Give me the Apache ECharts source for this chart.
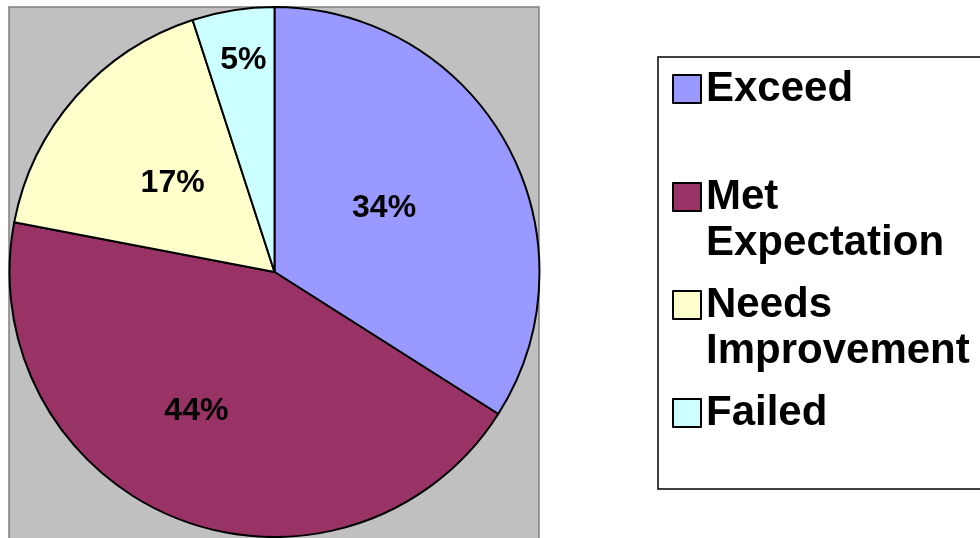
<!DOCTYPE html>
<html>
<head>
<meta charset="utf-8">
<script src="https://cdn.jsdelivr.net/npm/echarts@6/dist/echarts.min.js"></script>
<style>
  html, body { margin: 0; padding: 0; background: #ffffff; }
  #chart { width: 980px; height: 538px; }
</style>
</head>
<body>
<div id="chart"></div>
<script>
// Rating categories and their share of the total (percent)
const categories = ['Exceed', 'Met Expectation', 'Needs Improvement', 'Failed'];
const shares = [34, 44, 17, 5];
const sliceColors = ['#9999FF', '#993366', '#FFFFCC', '#CCFFFF'];

// Legend text: an empty first line keeps the name's first line level with the swatch,
// and every entry spans the same number of lines so the rows are evenly spaced.
const legendText = {
  'Exceed': '\nExceed\n ',
  'Met Expectation': '\nMet\nExpectation',
  'Needs Improvement': '\nNeeds\nImprovement',
  'Failed': '\nFailed\n '
};

// Label placement inside each slice: fraction of the radius and a small turn (degrees)
const labelRadius = [0.483, 0.597, 0.514, 0.816];
const labelTurn = [-2.3, 8, 0.2, 0.7];

const CX = 274.5, CY = 272, R = 265;
const total = shares.reduce((a, b) => a + b, 0);
const midAngles = [];
let acc = 0;
shares.forEach(v => { midAngles.push((acc + v / 2) / total * 360); acc += v; });

const chart = echarts.init(document.getElementById('chart'), null, { renderer: 'canvas' });

chart.setOption({
  animation: false,
  backgroundColor: '#ffffff',
  graphic: [
    {
      type: 'rect', z: 0,
      shape: { x: 9, y: 7, width: 530, height: 545 },
      style: { fill: '#C0C0C0', stroke: '#808080', lineWidth: 1.5 }
    },
    {
      type: 'rect', z: 0,
      shape: { x: 658, y: 57, width: 340, height: 432 },
      style: { fill: '#ffffff', stroke: '#000000', lineWidth: 1.5 }
    }
  ],
  legend: {
    orient: 'vertical',
    left: 672,
    top: 20,
    padding: 0,
    itemWidth: 28,
    itemHeight: 28,
    itemGap: -30,
    icon: 'rect',
    selectedMode: false,
    data: categories,
    formatter: name => legendText[name],
    textStyle: {
      color: '#000000',
      fontFamily: 'Liberation Sans, Arial, sans-serif',
      fontWeight: 'bold',
      fontSize: 42,
      lineHeight: 46
    }
  },
  series: [{
    type: 'pie',
    center: [CX, CY],
    radius: R,
    startAngle: 90,
    clockwise: true,
    avoidLabelOverlap: false,
    itemStyle: { borderColor: '#000000', borderWidth: 2 },
    emphasis: { disabled: true },
    label: {
      show: true,
      position: 'inside',
      formatter: '{c}%',
      color: '#000000',
      fontFamily: 'Liberation Sans, Arial, sans-serif',
      fontWeight: 'bold',
      fontSize: 32
    },
    labelLine: { show: false },
    labelLayout: function (params) {
      const i = params.dataIndex;
      const a = (midAngles[i] + labelTurn[i]) * Math.PI / 180;
      const d = R * labelRadius[i];
      return {
        x: CX + d * Math.sin(a),
        y: CY - d * Math.cos(a) + 2,
        align: 'center',
        verticalAlign: 'middle'
      };
    },
    data: categories.map((name, i) => ({
      name: name,
      value: shares[i],
      itemStyle: { color: sliceColors[i] }
    }))
  }]
});
</script>
</body>
</html>
